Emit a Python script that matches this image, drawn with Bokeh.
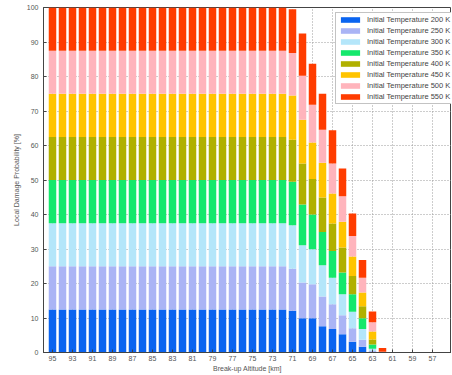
from bokeh.plotting import figure
from bokeh.models import ColumnDataSource, Range1d, FixedTicker
from bokeh.embed import file_html
from bokeh.resources import INLINE

# Break-up altitude [km]
altitudes = [95, 94, 93, 92, 91, 90, 89, 88, 87, 86, 85, 84, 83, 82, 81, 80, 79,
             78, 77, 76, 75, 74, 73, 72, 71, 70, 69, 68, 67, 66, 65, 64, 63, 62]

# Local damage probability [%] per initial temperature
t200 = [12.5, 12.5, 12.5, 12.5, 12.5, 12.5, 12.5, 12.5, 12.5, 12.5, 12.5, 12.5, 12.5, 12.5, 12.5, 12.5, 12.5,
        12.5, 12.5, 12.5, 12.5, 12.5, 12.5, 12.5, 12.1, 9.9, 9.9, 7.6, 6.8, 5.3, 3.1, 1.7, 0.1, 0.0]
t250 = [12.5, 12.5, 12.5, 12.5, 12.5, 12.5, 12.5, 12.5, 12.5, 12.5, 12.5, 12.5, 12.5, 12.5, 12.5, 12.5, 12.5,
        12.5, 12.5, 12.5, 12.5, 12.5, 12.5, 12.5, 12.2, 10.4, 9.9, 8.6, 7.2, 5.5, 3.9, 2.0, 0.3, 0.0]
t300 = [12.5, 12.5, 12.5, 12.5, 12.5, 12.5, 12.5, 12.5, 12.5, 12.5, 12.5, 12.5, 12.5, 12.5, 12.5, 12.5, 12.5,
        12.5, 12.5, 12.5, 12.5, 12.5, 12.5, 12.5, 12.6, 10.8, 10.1, 9.1, 7.7, 6.1, 4.8, 3.1, 0.7, 0.0]
t350 = [12.5, 12.5, 12.5, 12.5, 12.5, 12.5, 12.5, 12.5, 12.5, 12.5, 12.5, 12.5, 12.5, 12.5, 12.5, 12.5, 12.5,
        12.5, 12.5, 12.5, 12.5, 12.5, 12.5, 12.5, 12.6, 11.8, 10.1, 9.6, 7.7, 6.3, 5.1, 3.1, 1.2, 0.02]
t400 = [12.5, 12.5, 12.5, 12.5, 12.5, 12.5, 12.5, 12.5, 12.5, 12.5, 12.5, 12.5, 12.5, 12.5, 12.5, 12.5, 12.5,
        12.5, 12.5, 12.5, 12.5, 12.5, 12.5, 12.5, 12.2, 11.9, 10.3, 10.0, 8.0, 7.2, 5.3, 3.5, 1.5, 0.03]
t450 = [12.5, 12.5, 12.5, 12.5, 12.5, 12.5, 12.5, 12.5, 12.5, 12.5, 12.5, 12.5, 12.5, 12.5, 12.5, 12.5, 12.5,
        12.5, 12.5, 12.5, 12.5, 12.5, 12.5, 12.5, 12.8, 12.7, 10.6, 10.1, 8.7, 7.5, 5.6, 4.0, 2.3, 0.05]
t500 = [12.5, 12.5, 12.5, 12.5, 12.5, 12.5, 12.5, 12.5, 12.5, 12.5, 12.5, 12.5, 12.5, 12.5, 12.5, 12.5, 12.5,
        12.5, 12.5, 12.5, 12.5, 12.5, 12.5, 12.5, 12.3, 12.7, 10.9, 9.6, 8.7, 7.4, 6.0, 4.3, 2.7, 0.1]
t550 = [12.5, 12.5, 12.5, 12.5, 12.5, 12.5, 12.5, 12.5, 12.5, 12.5, 12.5, 12.5, 12.5, 12.5, 12.5, 12.5, 12.5,
        12.5, 12.5, 12.5, 12.5, 12.5, 12.5, 12.5, 12.7, 12.3, 11.9, 10.4, 9.6, 8.0, 6.5, 5.1, 3.1, 1.1]

series_names = ["t200", "t250", "t300", "t350", "t400", "t450", "t500", "t550"]
legend_labels = ["Initial Temperature 200 K", "Initial Temperature 250 K",
                 "Initial Temperature 300 K", "Initial Temperature 350 K",
                 "Initial Temperature 400 K", "Initial Temperature 450 K",
                 "Initial Temperature 500 K", "Initial Temperature 550 K"]
colors = ["#0A64F0", "#AAB4F5", "#B4E6FA", "#14E86C",
          "#B0B000", "#FFC400", "#FFB4BC", "#FF3C00"]

x_tick_values = [95, 93, 91, 89, 87, 85, 83, 81, 79, 77, 75, 73, 71, 69, 67, 65, 63, 61, 59, 57, 55]
y_tick_values = [0, 10, 20, 30, 40, 50, 60, 70, 80, 90, 100]

source = ColumnDataSource(data=dict(alt=altitudes, t200=t200, t250=t250, t300=t300,
                                    t350=t350, t400=t400, t450=t450, t500=t500, t550=t550))

FONT = "Liberation Sans"

p = figure(frame_width=408, frame_height=345,
           x_range=Range1d(95.9, 55.1), y_range=Range1d(0, 100),
           output_backend="svg", toolbar_location=None,
           min_border_left=43, min_border_right=0, min_border_top=7, min_border_bottom=0,
           background_fill_color="white", border_fill_color="white")

p.vbar_stack(series_names, x="alt", width=0.75, source=source,
             color=colors, line_color=None, legend_label=legend_labels)

# grid
p.xgrid.ticker = FixedTicker(ticks=x_tick_values)
p.ygrid.ticker = FixedTicker(ticks=y_tick_values)
for g in (p.xgrid, p.ygrid):
    g.grid_line_color = "#9a9a9a"
    g.grid_line_dash = "1 2"
    g.grid_line_width = 1

# axes
p.xaxis.ticker = FixedTicker(ticks=x_tick_values)
p.yaxis.ticker = FixedTicker(ticks=y_tick_values)
p.xaxis.axis_label = "Break-up Altitude [km]"
p.yaxis.axis_label = "Local Damage Probability [%]"
for ax in (p.xaxis, p.yaxis):
    ax.axis_line_color = "#444444"
    ax.major_tick_line_color = "#444444"
    ax.major_tick_in = 3
    ax.major_tick_out = 0
    ax.minor_tick_line_color = None
    ax.major_label_text_font = FONT
    ax.major_label_text_font_size = "7px"
    ax.major_label_text_color = "#555555"
    ax.axis_label_text_font = FONT
    ax.axis_label_text_font_size = "7px"
    ax.axis_label_text_font_style = "normal"
    ax.axis_label_text_color = "#555555"
p.xaxis.major_label_standoff = 3
p.xaxis.axis_label_standoff = 1
p.yaxis.major_label_standoff = 5
p.yaxis.axis_label_standoff = 4

p.outline_line_color = "#444444"
p.outline_line_width = 1

# legend
lg = p.legend[0]
lg.location = (292, 248)
lg.label_text_font = FONT
lg.label_text_font_size = "7.5px"
lg.label_text_color = "#444444"
lg.label_height = 9
lg.glyph_height = 7
lg.glyph_width = 24
lg.spacing = 2
lg.padding = 2
lg.margin = 0
lg.label_standoff = 5
lg.border_line_color = "#888888"
lg.border_line_width = 1
lg.background_fill_color = "white"
lg.background_fill_alpha = 1.0

open("out.html", "w").write(file_html(p, INLINE))
